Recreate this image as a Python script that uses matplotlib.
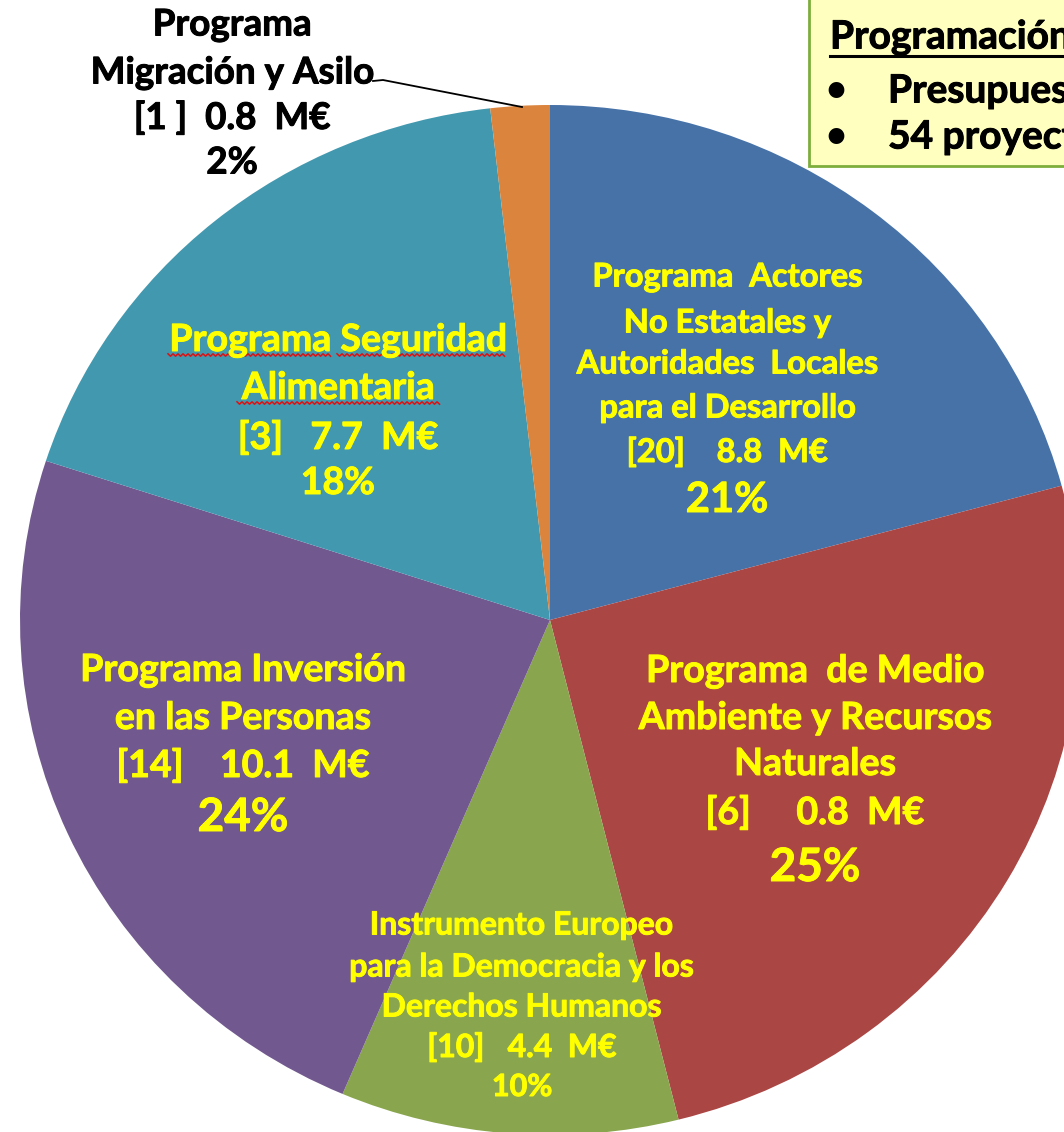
import matplotlib
matplotlib.use("Agg")
import matplotlib.pyplot as plt
import matplotlib.patheffects as pe
import numpy as np
from matplotlib.patches import Rectangle

#* Data (clockwise from 12 o'clock)
programas = ["Actores No Estatales", "Medio Ambiente", "EIDHR",
             "Inversión en las Personas", "Seguridad Alimentaria", "Migración y Asilo"]
cuotas = [20.8, 25.3, 10.3, 23.6, 18.2, 1.8]
colores = ["#4672A8", "#AA4644", "#89A54E", "#71588F", "#4198AF", "#DB843D"]

#* Label lines for every slice: (text, y pixel, size)
etiquetaActores = [("Programa  Actores", 277, 23.5), ("No Estatales y", 323, 23.5),
                   ("Autoridades  Locales", 364, 23.5), ("para el Desarrollo", 408, 23.5),
                   ("[20]    8.8  M€", 452, 23.5), ("21%", 500, 30)]
etiquetaMedio = [("Programa  de Medio", 671, 27), ("Ambiente y Recursos", 718, 27),
                 ("Naturales", 764, 27), ("[6]     0.8  M€", 812, 27), ("25%", 868, 33)]
etiquetaEIDHR = [("Instrumento Europeo", 925, 23), ("para la Democracia y los", 967, 23),
                 ("Derechos Humanos", 1007, 23), ("[10]   4.4  M€", 1047, 23), ("10%", 1087, 22)]
etiquetaInversion = [("Programa Inversión", 670, 27), ("en las Personas", 718, 27),
                     ("[14]    10.1  M€", 765, 27), ("24%", 818, 33)]
etiquetaSeguridad = [("Programa Seguridad", 340, 27), ("Alimentaria", 388, 27),
                     ("[3]   7.7  M€", 437, 27), ("18%", 483, 27)]
etiquetaMigracion = [("Programa", 25, 26.5), ("Migración y Asilo", 73, 26.5),
                     ("[1 ]  0.8  M€", 118, 26.5), ("2%", 163, 26.5)]

FONT = "Lato"
W, H = 1064, 1132

fig = plt.figure(figsize=(W / 100, H / 100), dpi=100)
fig.patch.set_facecolor("white")

#* Pie axes: slightly elliptical pie, centre (550, 620), radii 530 x 515 px
cx, cy, rx, ry = 550, 620, 530, 515
axPie = fig.add_axes([(cx - rx) / W, (H - cy - ry) / H, 2 * rx / W, 2 * ry / H])
axPie.pie(cuotas, colors=colores, startangle=90, counterclock=False,
          radius=1.0, wedgeprops=dict(linewidth=0))
axPie.set_xlim(-1, 1)
axPie.set_ylim(-1, 1)
axPie.set_aspect("auto")
axPie.axis("off")

#* Overlay axes in pixel coordinates for texts
ax = fig.add_axes([0, 0, 1, 1])
ax.set_xlim(0, W)
ax.set_ylim(H, 0)
ax.axis("off")


def heavy(color):
    #* a thin stroke of the same colour to make Lato look like Calibri bold
    return [pe.withStroke(linewidth=0.7, foreground=color)]


def drawLabel(lines, x, color):
    for txt, y, size in lines:
        ax.text(x, y, txt, ha="center", va="center", fontsize=size,
                fontweight="bold", color=color, family=FONT,
                path_effects=heavy(color))


drawLabel(etiquetaActores, 727, "#FFFF00")
drawLabel(etiquetaMedio, 815, "#FFFF00")
drawLabel(etiquetaEIDHR, 522, "#FFFF00")
drawLabel(etiquetaInversion, 243, "#FFFF00")
drawLabel(etiquetaSeguridad, 338, "#FFFF00")
drawLabel(etiquetaMigracion, 232, "black")

#* Spell-check wavy underline under "Programa Seguridad Alimentaria"
for x0, x1, yy in [(168, 331, 355), (337, 506, 355), (237, 440, 403)]:
    xs = np.arange(x0, x1 + 1, 2.5)
    ys = yy + np.where(np.arange(len(xs)) % 2 == 0, -1.2, 1.2)
    ax.plot(xs, ys, color="#E01010", lw=1.1)

#* Leader line for Migración
ax.plot([373, 383, 522], [81, 80, 107], color="black", lw=1.3)

#* Info box top right (cut by the figure edge, as in the original)
ax.add_patch(Rectangle((809, -5), 300, 171, facecolor="#FFFFC0",
                       edgecolor="#7DAE3C", lw=2, clip_on=False))
boxText = [("Programación", 830, 37), ("Presupuesto", 888, 91), ("54 proyectos", 888, 137)]
for txt, x, y in boxText:
    ax.text(x, y, txt, ha="left", va="center", fontsize=28, fontweight="bold",
            family=FONT, color="black", path_effects=heavy("black"))
ax.plot([830, 1064], [56, 56], color="black", lw=2.2)
for y in [91, 137]:
    ax.text(836, y, "•", ha="center", va="center", fontsize=26,
            fontweight="bold", family=FONT)

fig.savefig("out.png", dpi=100)
